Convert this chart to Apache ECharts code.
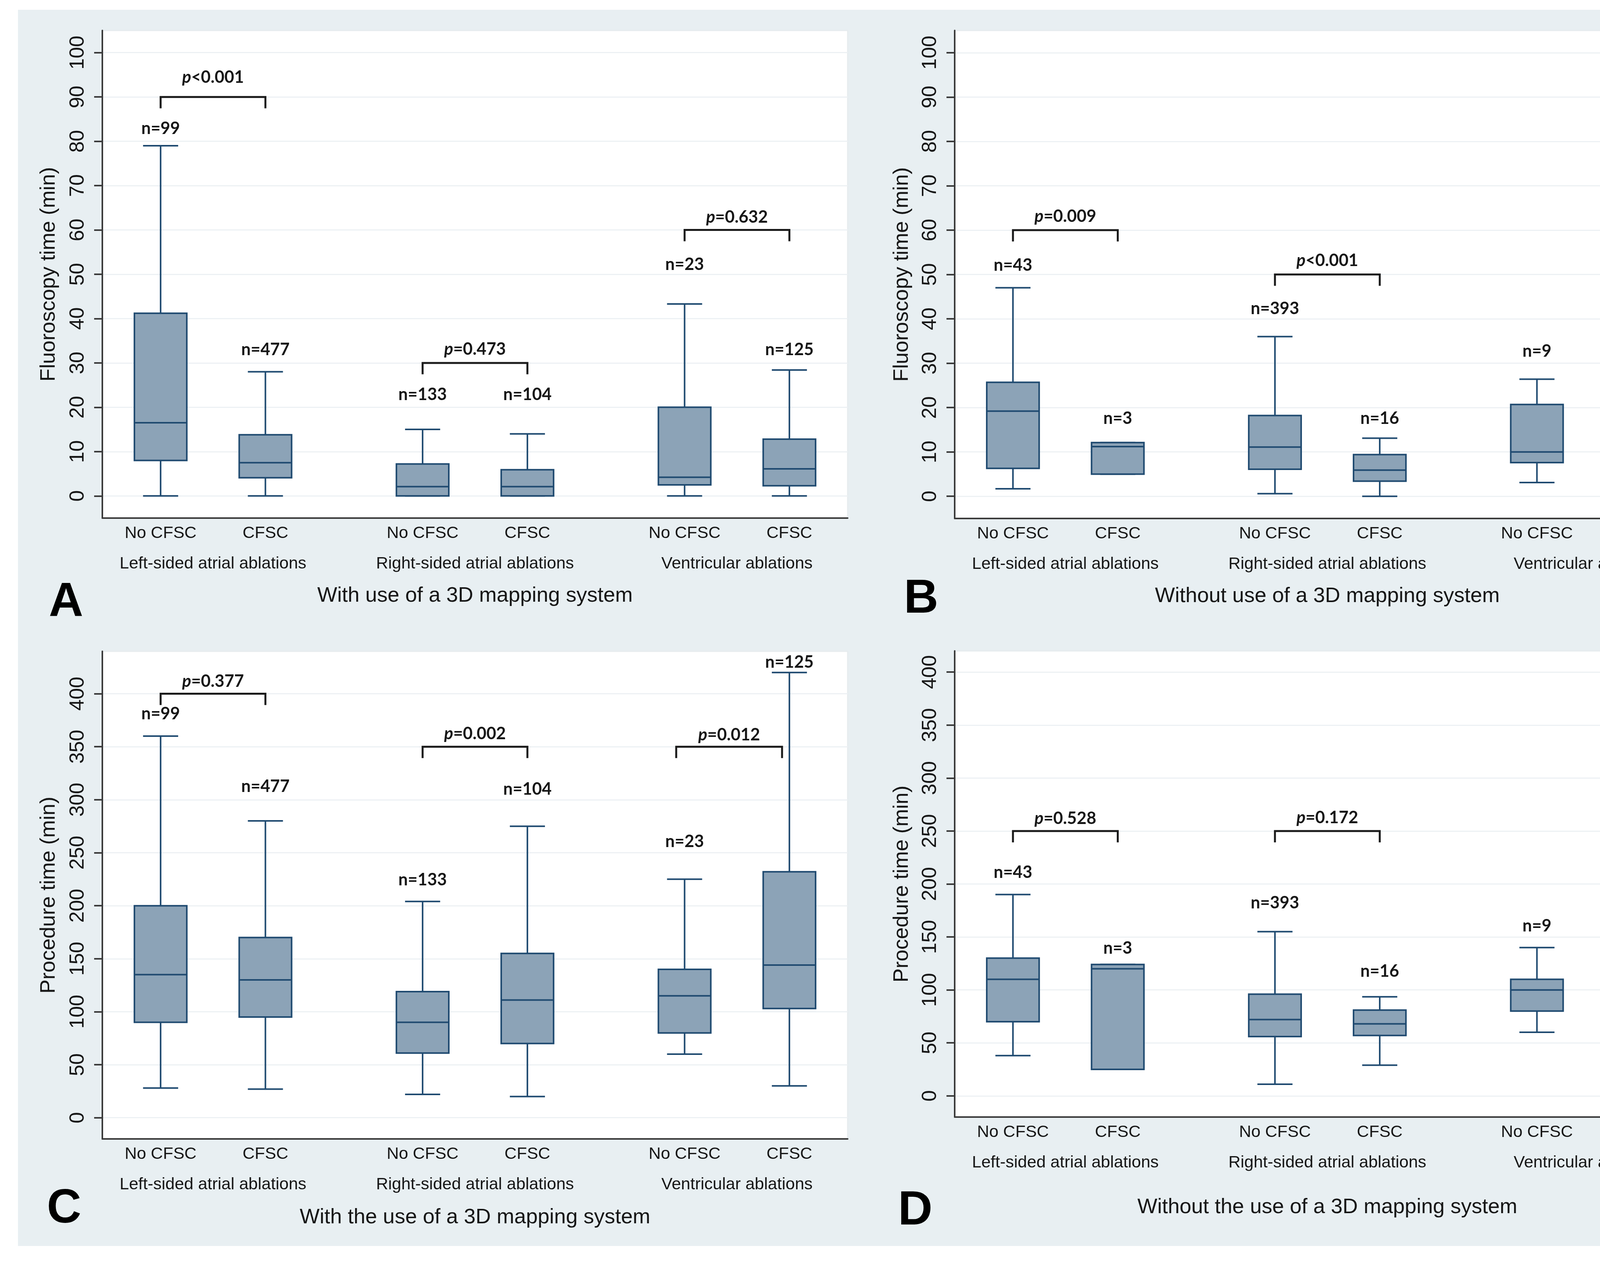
<!DOCTYPE html>
<html><head><meta charset="utf-8">
<script src="https://cdn.jsdelivr.net/npm/echarts@6/dist/echarts.min.js"></script>
<style>html,body{margin:0;padding:0;background:#fff}#c{width:4447px;height:3230px}</style>
</head><body><div id="c"></div>
<script>
// ---------- DATA ----------
const groupLabels = ['Left-sided atrial ablations', 'Right-sided atrial ablations', 'Ventricular ablations'];
const armLabels = ['No CFSC', 'CFSC'];
const armLabelsNoVentCFSC = ['No CFSC', 'CFSC*'];

const yTicksFluoro = [0, 10, 20, 30, 40, 50, 60, 70, 80, 90, 100];
const yTicksProc = [0, 50, 100, 150, 200, 250, 300, 350, 400];

// box stats per category: [min, q1, median, q3, max] (null = no data)
const boxA = [[0, 8.0, 16.5, 41.2, 79], [0, 4.1, 7.5, 13.8, 28], [0, 0, 2.1, 7.2, 15], [0, 0, 2.1, 5.9, 14], [0, 2.5, 4.2, 20, 43.3], [0, 2.3, 6.1, 12.8, 28.4]];
const boxB = [[1.7, 6.3, 19.2, 25.7, 47], [5.0, 5.0, 11.2, 12.1, 12.1], [0.6, 6.1, 11.1, 18.2, 36], [0, 3.4, 5.9, 9.4, 13.1], [3.1, 7.6, 10.0, 20.7, 26.4], null];
const boxC = [[28, 90, 135, 200, 360], [27, 95, 130, 170, 280], [22, 61, 90, 119, 204], [20, 70, 111, 155, 275], [60, 80, 115, 140, 225], [30, 103, 144, 232, 420]];
const boxD = [[38, 70, 110, 130, 190], [25, 25, 120, 124, 124], [11, 56, 72, 96, 155], [29, 57, 68, 81, 93.5], [60, 80, 100, 110, 140], null];

// sample-size labels and the height they are written at
const nTextA = ['n=99', 'n=477', 'n=133', 'n=104', 'n=23', 'n=125'];
const nYA = [82.9, 33.0, 22.8, 22.8, 52.2, 33.0];
const nTextB = ['n=43', 'n=3', 'n=393', 'n=16', 'n=9', null];
const nYB = [52.1, 17.5, 42.3, 17.5, 32.7, null];
const nTextC = ['n=99', 'n=477', 'n=133', 'n=104', 'n=23', 'n=125'];
const nYC = [381, 312.5, 224.3, 309.9, 260.5, 429.7];
const nTextD = ['n=43', 'n=3', 'n=393', 'n=16', 'n=9', null];
const nYD = [211, 139.3, 182, 117.6, 160.3, null];

// p-value brackets: [from x, to x, bracket y, text y]
const pBracketA = [[0, 1, 90, 94.4], [2.5, 3.5, 30, 33.1], [5, 6, 60, 62.9]];
const pTextA = ['<0.001', '=0.473', '=0.632'];
const pBracketB = [[0, 1, 60, 63.1], [2.5, 3.5, 50, 53.1]];
const pTextB = ['=0.009', '<0.001'];
const pBracketC = [[0, 1, 400, 411.4], [2.5, 3.5, 350, 362], [4.92, 5.93, 350, 361]];
const pTextC = ['=0.377', '=0.002', '=0.012'];
const pBracketD = [[0, 1, 250, 261.8], [2.5, 3.5, 250, 262.6]];
const pTextD = ['=0.528', '=0.172'];

const titles = ['With use of a 3D mapping system', 'Without use of a 3D mapping system', 'With the use of a 3D mapping system', 'Without the use of a 3D mapping system'];
const yNames = ['Fluoroscopy time (min)', 'Fluoroscopy time (min)', 'Procedure time (min)', 'Procedure time (min)'];
const panelLetters = ['A', 'B', 'C', 'D'];

// ---------- LAYOUT / STYLE ----------
const NAVY = '#1f4a70', FILL = '#8ca3b7', AXIS = '#3a3a3a', TXT = '#161616';
const BOX_W = 0.5, CAP_W = 0.335, LW = 4;
const X_MIN = -0.556, X_MAX = 6.556;
const catX = (g, j) => g * 2.5 + j;
const catXs = [];
for (let g = 0; g < 3; g++) for (let j = 0; j < 2; j++) catXs.push(catX(g, j));
const groupXs = [0, 1, 2].map(g => catX(g, 0.5));
const SANS = "'Liberation Sans', Arial, Helvetica, sans-serif";
const BOLDF = "Lato, 'Open Sans', sans-serif";

const grids = [
  { left: 262, top: 78, width: 1908, height: 1248 },
  { left: 2444, top: 78, width: 1908, height: 1249 },
  { left: 262, top: 1667, width: 1908, height: 1248 },
  { left: 2444, top: 1666, width: 1908, height: 1193 }
];
const yRanges = [[-5, 105], [-5, 105], [-20, 440], [-20, 420]];
const yTickSets = [yTicksFluoro, yTicksFluoro, yTicksProc, yTicksProc];
const titleGaps = [172, 172, 174, 204];
const yNameGaps = [110, 108, 110, 108];
const letterPos = [[169, 1543], [2358, 1534], [164, 3095], [2343, 3100]];

function lookup(xs, labels) {
  return v => { for (let i = 0; i < xs.length; i++) if (Math.abs(xs[i] - v) < 1e-6) return labels[i]; return ''; };
}

function boxRender(params, api) {
  const x = api.value(0);
  const c = i => api.coord([x, api.value(i)]);
  const pMin = c(1), pQ1 = c(2), pMed = c(3), pQ3 = c(4), pMax = c(5);
  const bw = api.size([BOX_W, 0])[0], cw = api.size([CAP_W, 0])[0];
  const cx = pMed[0];
  const st = { stroke: NAVY, lineWidth: LW, fill: null };
  return { type: 'group', children: [
    { type: 'line', shape: { x1: cx, y1: pQ3[1], x2: cx, y2: pMax[1] }, style: st },
    { type: 'line', shape: { x1: cx, y1: pQ1[1], x2: cx, y2: pMin[1] }, style: st },
    { type: 'line', shape: { x1: cx - cw / 2, y1: pMax[1], x2: cx + cw / 2, y2: pMax[1] }, style: st },
    { type: 'line', shape: { x1: cx - cw / 2, y1: pMin[1], x2: cx + cw / 2, y2: pMin[1] }, style: st },
    { type: 'rect', shape: { x: cx - bw / 2, y: pQ3[1], width: bw, height: pQ1[1] - pQ3[1] }, style: { fill: FILL, stroke: NAVY, lineWidth: LW } },
    { type: 'line', shape: { x1: cx - bw / 2, y1: pMed[1], x2: cx + bw / 2, y2: pMed[1] }, style: st }
  ] };
}

function nRender(texts) {
  return (params, api) => {
    const p = api.coord([api.value(0), api.value(1)]);
    return { type: 'text', x: p[0], y: p[1], style: {
      text: texts[api.value(2)], fill: TXT, fontFamily: BOLDF, fontWeight: 'bold', fontSize: 43,
      align: 'center', verticalAlign: 'middle' } };
  };
}

function bracketRender(texts) {
  return (params, api) => {
    const x1 = api.value(0), x2 = api.value(1), y = api.value(2), ty = api.value(3);
    const a = api.coord([x1, y]), b = api.coord([x2, y]);
    const t = api.coord([(x1 + x2) / 2, ty]);
    const leg = 29;
    const rs = { fill: TXT, fontFamily: BOLDF, fontWeight: 'bold', fontSize: 43 };
    return { type: 'group', children: [
      { type: 'polyline', shape: { points: [[a[0], a[1] + leg], [a[0], a[1]], [b[0], b[1]], [b[0], b[1] + leg]] },
        style: { stroke: '#1a1a1a', lineWidth: 5, fill: null, lineJoin: 'miter', lineCap: 'butt' } },
      { type: 'text', x: t[0], y: t[1], style: {
        text: '{i|p}{b|' + texts[params.dataIndex] + '}',
        rich: { i: Object.assign({ fontStyle: 'italic' }, rs), b: rs },
        align: 'center', verticalAlign: 'middle' } }
    ] };
  };
}

const panels = [
  { box: boxA, nT: nTextA, nY: nYA, pb: pBracketA, pt: pTextA, arms: [armLabels, armLabels, armLabels] },
  { box: boxB, nT: nTextB, nY: nYB, pb: pBracketB, pt: pTextB, arms: [armLabels, armLabels, armLabelsNoVentCFSC] },
  { box: boxC, nT: nTextC, nY: nYC, pb: pBracketC, pt: pTextC, arms: [armLabels, armLabels, armLabels] },
  { box: boxD, nT: nTextD, nY: nYD, pb: pBracketD, pt: pTextD, arms: [armLabels, armLabels, armLabelsNoVentCFSC] }
];

const option = { animation: false, backgroundColor: '#ffffff', grid: [], xAxis: [], yAxis: [], series: [], graphic: [] };

option.graphic.push({ type: 'rect', z: -100, silent: true, shape: { x: 46, y: 25, width: 4363, height: 3164 }, style: { fill: '#e8eff2' } });

panels.forEach((P, k) => {
  option.grid.push(Object.assign({ show: true, backgroundColor: '#ffffff', borderColor: '#e6ebee', borderWidth: 3, outerBoundsMode: 'none', containLabel: false }, grids[k]));
  const catLabelList = [].concat(P.arms[0], P.arms[1], P.arms[2]);
  // category axis
  option.xAxis.push({
    type: 'value', gridIndex: k, min: X_MIN, max: X_MAX, position: 'bottom',
    name: titles[k], nameLocation: 'middle', nameGap: titleGaps[k],
    nameTextStyle: { fontFamily: SANS, fontSize: 54, color: TXT },
    axisLine: { show: true, onZero: false, lineStyle: { color: AXIS, width: 4 } },
    axisTick: { show: false }, splitLine: { show: false },
    axisLabel: { customValues: catXs, formatter: lookup(catXs, catLabelList), margin: 18, fontFamily: SANS, fontSize: 43, color: TXT }
  });
  // group-label axis
  option.xAxis.push({
    type: 'value', gridIndex: k, min: X_MIN, max: X_MAX, position: 'bottom', offset: 78,
    axisLine: { show: false }, axisTick: { show: false }, splitLine: { show: false },
    axisLabel: { customValues: groupXs, formatter: lookup(groupXs, groupLabels), margin: 18, fontFamily: SANS, fontSize: 43, color: TXT }
  });
  option.yAxis.push({
    type: 'value', gridIndex: k, min: yRanges[k][0], max: yRanges[k][1],
    name: yNames[k], nameLocation: 'middle', nameGap: yNameGaps[k],
    nameTextStyle: { fontFamily: SANS, fontSize: 54, color: TXT },
    axisLine: { show: true, onZero: false, lineStyle: { color: AXIS, width: 4 } },
    axisTick: { show: true, customValues: yTickSets[k], length: 21, lineStyle: { color: AXIS, width: 4 } },
    axisLabel: { customValues: yTickSets[k], rotate: 90, margin: 36, fontFamily: SANS, fontSize: 52, color: TXT },
    splitLine: { show: true, lineStyle: { color: '#edf1f4', width: 3 } }
  });
  const xi = 2 * k;
  const boxData = [], nData = [];
  P.box.forEach((s, i) => { if (s) boxData.push([catXs[i]].concat(s)); });
  P.nT.forEach((t, i) => { if (t) nData.push([catXs[i], P.nY[i], i]); });
  option.series.push({ type: 'custom', xAxisIndex: xi, yAxisIndex: k, renderItem: boxRender, data: boxData, z: 3, clip: false });
  option.series.push({ type: 'custom', xAxisIndex: xi, yAxisIndex: k, renderItem: nRender(P.nT), data: nData, z: 4, clip: false });
  option.series.push({ type: 'custom', xAxisIndex: xi, yAxisIndex: k, renderItem: bracketRender(P.pt), data: P.pb, z: 4, clip: false });
  option.graphic.push({ type: 'text', x: letterPos[k][0], y: letterPos[k][1], z: 10,
    style: { text: panelLetters[k], fontFamily: "'Liberation Sans Narrow', 'Liberation Sans', Arial, sans-serif", fontWeight: 'bold', fontSize: 122, fill: '#000',
      align: 'center', verticalAlign: 'middle', textAlign: 'center', textVerticalAlign: 'middle' } });
});

const chart = echarts.init(document.getElementById('c'), null, { renderer: 'canvas' });
chart.setOption(option);
</script></body></html>
